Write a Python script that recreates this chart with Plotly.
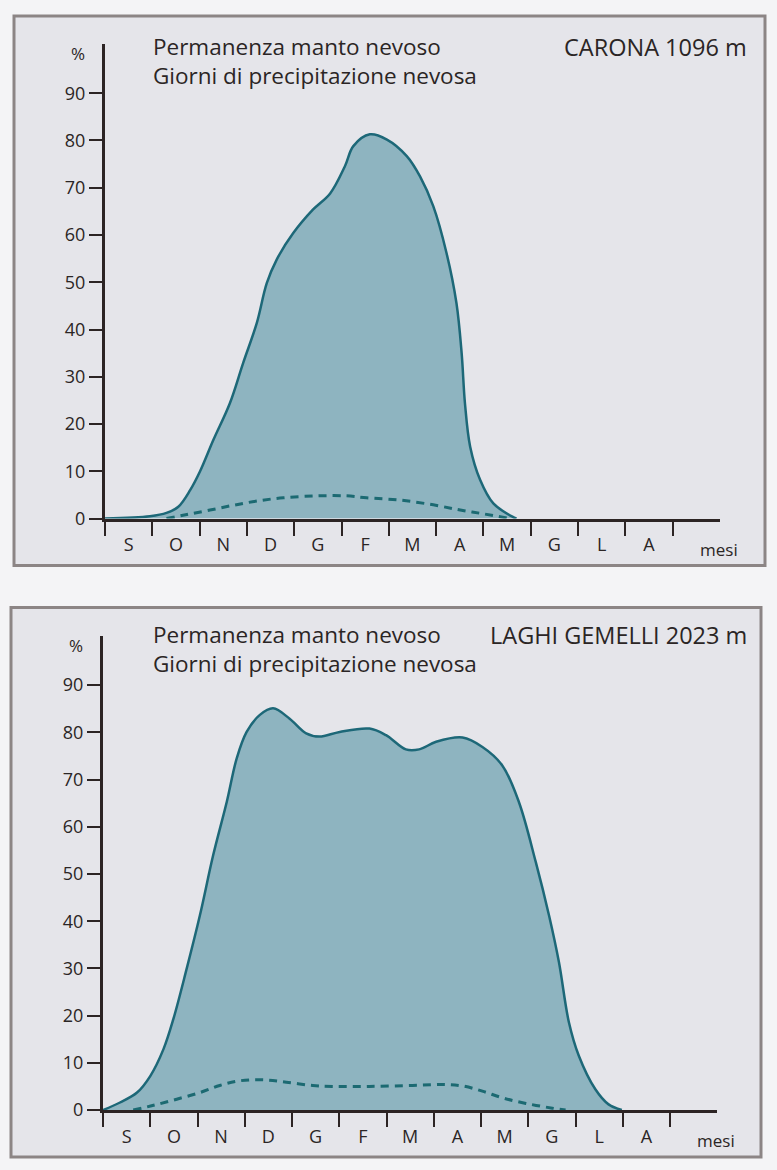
import plotly.graph_objects as go

W, H = 777, 1170
SY = 1170 / 1160  # vertical compensation observed in the photographed page

# ---------------- data ----------------
month_labels = ["S", "O", "N", "D", "G", "F", "M", "A", "M", "G", "L", "A"]
y_ticks = [0, 10, 20, 30, 40, 50, 60, 70, 80, 90]

# CARONA 1096 m
carona_cover_x = [0, 0.95, 1.30, 1.55, 1.80, 2.01, 2.29, 2.64, 2.92, 3.21, 3.42, 3.63, 3.98,
                  4.40, 4.76, 5.07, 5.25, 5.60, 5.96, 6.38, 6.66, 6.94, 7.22, 7.43, 7.54,
                  7.61, 7.72, 7.93, 8.21, 8.63, 8.70]
carona_cover_y = [0, 0.5, 1.2, 2.5, 6.0, 10, 16.6, 24.4, 32.9, 41.4, 49.8, 54.8, 60.4,
                  65.4, 68.8, 74.5, 78.8, 81.3, 80.2, 76.7, 72.4, 66.1, 56.2, 45.6, 35.0,
                  24.4, 15.2, 8.2, 3.2, 0.3, 0]
carona_snowfall_x = [1.30, 1.73, 2.22, 2.71, 3.21, 3.77, 4.47, 5.11, 5.53, 6.24, 6.94, 7.51, 8.0, 8.56]
carona_snowfall_y = [0, 0.85, 1.8, 2.8, 3.7, 4.4, 4.8, 4.8, 4.4, 3.9, 2.9, 1.8, 1.0, 0]

# LAGHI GEMELLI 2023 m
gemelli_cover_x = [0, 0.36, 0.72, 1.0, 1.28, 1.49, 1.77, 2.05, 2.33, 2.62, 2.83, 3.04, 3.32,
                   3.60, 3.95, 4.30, 4.58, 5.01, 5.64, 5.99, 6.41, 6.69, 7.05, 7.61, 8.03,
                   8.45, 8.80, 9.16, 9.44, 9.65, 9.86, 10.07, 10.42, 10.70, 10.98]
gemelli_cover_y = [0, 1.6, 3.7, 7.2, 12.9, 19.3, 29.9, 41.2, 53.9, 65.3, 74.5, 80.1, 83.7,
                   85.1, 82.9, 79.8, 79.1, 80.1, 80.8, 79.4, 76.4, 76.4, 78.0, 78.9, 76.9,
                   73.0, 65.3, 52.5, 41.2, 31.3, 18.6, 11.5, 4.4, 1.2, 0]
gemelli_snowfall_x = [0.64, 1.07, 1.56, 2.05, 2.47, 2.90, 3.39, 3.88, 4.44, 4.86, 5.64, 6.55,
                      7.19, 7.61, 8.03, 8.45, 8.95, 9.51, 9.79]
gemelli_snowfall_y = [0, 1.0, 2.3, 3.7, 5.2, 6.2, 6.4, 5.9, 5.2, 5.0, 5.0, 5.2, 5.4, 5.1,
                      4.0, 2.6, 1.4, 0.4, 0]

title_line1 = "Permanenza manto nevoso"
title_line2 = "Giorni di precipitazione nevosa"
station_names = ["CARONA 1096 m", "LAGHI GEMELLI 2023 m"]
x_unit = "mesi"
y_unit = "%"

# ---------------- style ----------------
FONT = "Open Sans"
TXT = "#2b2525"
AX = "#2c2424"
FILL = "#8eb4c0"
LINE = "#1d6878"
DASH = "#1c6a72"
PANEL = "#e5e5ea"
BORDER = "#8c8585"


def px(x):
    return x / W


def py(y):
    return 1 - (y * SY) / H


fig = go.Figure()

panels = [
    dict(cx=carona_cover_x, cy=carona_cover_y, sx=carona_snowfall_x, sy=carona_snowfall_y,
         name=station_names[0], x0=105, x1=720, y0=519, ytop=44, mpx=47.3,
         box=(14, 16, 765, 566), t1=47, t2=76, pct=(78, 54), mesi=(719, 550)),
    dict(cx=gemelli_cover_x, cy=gemelli_cover_y, sx=gemelli_snowfall_x, sy=gemelli_snowfall_y,
         name=station_names[1], x0=103, x1=717, y0=1111, ytop=637, mpx=47.25,
         box=(11, 608, 761, 1158), t1=636, t2=664, pct=(76, 646), mesi=(716, 1141)),
]

shapes = []
annotations = []

for i, p in enumerate(panels):
    sfx = "" if i == 0 else str(i + 1)
    xa = "x" + sfx
    ya = "y" + sfx

    fig.add_trace(go.Scatter(
        x=p["cx"], y=p["cy"], mode="lines", fill="tozeroy", fillcolor=FILL,
        line=dict(color=LINE, width=2.5, shape="spline", smoothing=1.0),
        xaxis=xa, yaxis=ya, showlegend=False, hoverinfo="skip"))
    fig.add_trace(go.Scatter(
        x=p["sx"], y=p["sy"], mode="lines",
        line=dict(color=DASH, width=3, dash="8px,6px", shape="spline", smoothing=1.0),
        xaxis=xa, yaxis=ya, showlegend=False, hoverinfo="skip"))

    xrange_max = (p["x1"] - p["x0"]) / p["mpx"]
    yrange_max = (p["y0"] - p["ytop"]) / (p["mpx"] / 10)

    xaxis = dict(
        domain=[px(p["x0"]), px(p["x1"])], range=[0, xrange_max],
        anchor=ya, showline=True, linecolor=AX, linewidth=3,
        showgrid=False, zeroline=False,
        tickmode="array", tickvals=[k + 0.5 for k in range(len(month_labels))],
        ticktext=month_labels, ticks="outside", ticklen=8,
        tickcolor="rgba(0,0,0,0)",
        tickfont=dict(family=FONT, size=18, color=TXT),
        minor=dict(tickmode="array", tickvals=list(range(len(month_labels) + 1)),
                   ticks="outside", ticklen=14, tickwidth=2, tickcolor=AX, showgrid=False),
        fixedrange=True,
    )
    yaxis = dict(
        domain=[py(p["y0"]), py(p["ytop"])], range=[0, yrange_max],
        anchor=xa, showline=True, linecolor=AX, linewidth=3,
        showgrid=False, zeroline=False,
        tickmode="array", tickvals=y_ticks, ticktext=[str(v) for v in y_ticks],
        ticks="outside", ticklen=13, tickwidth=2, tickcolor=AX,
        tickfont=dict(family=FONT, size=18, color=TXT),
        fixedrange=True,
    )
    fig.update_layout(**{"xaxis" + sfx: xaxis, "yaxis" + sfx: yaxis})

    bx0, by0, bx1, by1 = p["box"]
    shapes.append(dict(type="rect", xref="paper", yref="paper",
                       x0=px(bx0), x1=px(bx1), y0=py(by1), y1=py(by0),
                       fillcolor=PANEL, line=dict(color=BORDER, width=3), layer="below"))

    annotations += [
        dict(text=title_line1 + "<br>" + title_line2, x=px(151),
             y=py((p["t1"] + p["t2"]) / 2), xanchor="left", yanchor="middle", align="left",
             font=dict(family=FONT, size=22.5, color=TXT)),
        dict(text=p["name"], x=px(749), y=py(p["t1"]), xanchor="right", yanchor="middle",
             font=dict(family=FONT, size=23.5, color=TXT)),
        dict(text=y_unit, x=px(p["pct"][0]), y=py(p["pct"][1]), xanchor="center", yanchor="middle",
             font=dict(family=FONT, size=17, color=TXT)),
        dict(text=x_unit, x=px(p["mesi"][0]), y=py(p["mesi"][1]), xanchor="center", yanchor="middle",
             font=dict(family=FONT, size=17, color=TXT)),
    ]

for a in annotations:
    a.update(xref="paper", yref="paper", showarrow=False)

fig.update_layout(
    width=W, height=H, autosize=False, margin=dict(l=0, r=0, t=0, b=0),
    paper_bgcolor="#f4f4f6", plot_bgcolor="rgba(0,0,0,0)",
    shapes=shapes, annotations=annotations, showlegend=False,
)

post = (
    "var d=document.documentElement,b=document.body;"
    "d.style.margin='0';d.style.padding='0';d.style.overflow='hidden';"
    "b.style.margin='0';b.style.padding='0';b.style.overflow='hidden';"
    "b.style.background='#f4f4f6';"
    "var g=document.getElementById('{plot_id}');"
    "g.style.position='absolute';g.style.left='0px';g.style.top='0px';"
)

fig.write_html(
    "out.html",
    config={"responsive": False, "displayModeBar": False},
    post_script=post,
)
